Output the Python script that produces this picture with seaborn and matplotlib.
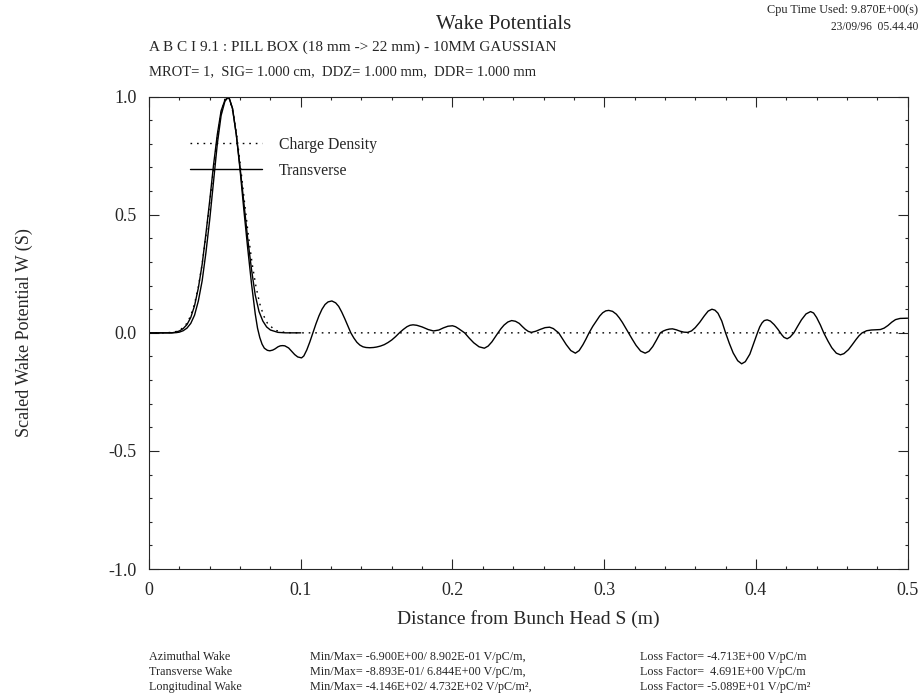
import numpy as np
import pandas as pd
import seaborn as sns
from matplotlib import pyplot as plt

# charge density, m / scaled
charge_s = [0.0, 0.010, 0.015, 0.0175, 0.020, 0.0225, 0.025, 0.0275, 0.030, 0.0325,
            0.035, 0.0375, 0.040, 0.0425, 0.045, 0.0475, 0.050, 0.0515, 0.053, 0.0555,
            0.058, 0.0605, 0.063, 0.0655, 0.068, 0.0705, 0.073, 0.0755, 0.078, 0.083,
            0.090, 0.100, 0.500]
charge_w = [0.0, 0.0, 0.002, 0.005, 0.011, 0.022, 0.041, 0.073, 0.123, 0.195,
            0.291, 0.411, 0.549, 0.693, 0.826, 0.930, 0.990, 1.0, 0.990, 0.930,
            0.826, 0.693, 0.549, 0.411, 0.291, 0.195, 0.123, 0.073, 0.041, 0.011,
            0.001, 0.0, 0.0]

# short solid curve (0 -> 0.1 m)
short_s = [0.0, 0.015, 0.0175, 0.020, 0.0225, 0.025, 0.0275, 0.030, 0.0325, 0.035,
           0.0375, 0.040, 0.0425, 0.045, 0.0475, 0.050, 0.0525, 0.055, 0.0575, 0.060,
           0.0625, 0.065, 0.0675, 0.070, 0.0725, 0.075, 0.0775, 0.080, 0.085, 0.090,
           0.100]
short_w = [0.0, 0.0, 0.003, 0.008, 0.018, 0.035, 0.065, 0.115, 0.19, 0.29,
           0.42, 0.56, 0.71, 0.84, 0.94, 0.985, 1.0, 0.95, 0.84, 0.70,
           0.55, 0.40, 0.27, 0.16, 0.09, 0.05, 0.025, 0.012, 0.002, 0.0,
           0.0]

# transverse wake
wake_s = [0.0, 0.015, 0.018, 0.020, 0.0225, 0.025, 0.0275, 0.030, 0.0325, 0.035,
          0.0375, 0.040, 0.0425, 0.045, 0.0475, 0.050, 0.0525, 0.055, 0.0575, 0.060,
          0.0625, 0.065, 0.0675, 0.070, 0.0715, 0.073, 0.0745, 0.076, 0.078, 0.0796,
          0.0815, 0.083, 0.085, 0.0865, 0.088, 0.0895, 0.092, 0.094, 0.096, 0.098,
          0.1005, 0.102, 0.104, 0.106, 0.108, 0.110, 0.112, 0.114, 0.116, 0.118,
          0.1205, 0.123, 0.125, 0.127, 0.129, 0.131, 0.133, 0.135, 0.137, 0.139,
          0.141, 0.143, 0.1455, 0.148, 0.150, 0.1525, 0.155, 0.1575, 0.160, 0.1625,
          0.165, 0.1675, 0.170, 0.172, 0.174, 0.1765, 0.180, 0.184, 0.1875, 0.191,
          0.194, 0.197, 0.200, 0.202, 0.204, 0.206, 0.208, 0.211, 0.214, 0.2175,
          0.221, 0.2235, 0.226, 0.228, 0.230, 0.232, 0.234, 0.2365, 0.239, 0.2415,
          0.244, 0.246, 0.248, 0.250, 0.252, 0.255, 0.258, 0.261, 0.264, 0.2665,
          0.268, 0.270, 0.2725, 0.275, 0.278, 0.281, 0.2835, 0.286, 0.288, 0.290,
          0.2925, 0.295, 0.297, 0.299, 0.301, 0.303, 0.3055, 0.308, 0.310, 0.312,
          0.314, 0.316, 0.3185, 0.321, 0.324, 0.327, 0.3295, 0.332, 0.3345, 0.337,
          0.339, 0.341, 0.343, 0.345, 0.3475, 0.350, 0.3525, 0.355, 0.3575, 0.360,
          0.363, 0.366, 0.3685, 0.371, 0.373, 0.375, 0.3775, 0.380, 0.3825, 0.385,
          0.388, 0.3906, 0.393, 0.396, 0.3985, 0.401, 0.4025, 0.404, 0.4055, 0.4074,
          0.4095, 0.412, 0.4145, 0.417, 0.4185, 0.4206, 0.4225, 0.425, 0.4275, 0.430,
          0.433, 0.436, 0.438, 0.440, 0.4425, 0.4447, 0.4475, 0.450, 0.453, 0.4557,
          0.458, 0.461, 0.4635, 0.466, 0.468, 0.470, 0.473, 0.476, 0.479, 0.482,
          0.4845, 0.487, 0.4895, 0.492, 0.495, 0.4985, 0.500]
wake_w = [0.0, 0.0, 0.001, 0.003, 0.009, 0.02, 0.04, 0.075, 0.135, 0.22,
          0.34, 0.48, 0.64, 0.80, 0.92, 0.98, 1.0, 0.95, 0.84, 0.69,
          0.52, 0.36, 0.21, 0.08, 0.02, -0.02, -0.048, -0.065, -0.074, -0.076,
          -0.073, -0.068, -0.059, -0.055, -0.054, -0.055, -0.064, -0.078, -0.092, -0.102,
          -0.106, -0.098, -0.072, -0.038, 0.0, 0.038, 0.072, 0.100, 0.120, 0.131,
          0.135, 0.127, 0.112, 0.088, 0.060, 0.030, 0.0, -0.022, -0.040, -0.052,
          -0.059, -0.062, -0.063, -0.062, -0.060, -0.056, -0.050, -0.041, -0.030, -0.016,
          0.0, 0.014, 0.026, 0.032, 0.034, 0.032, 0.025, 0.014, 0.008, 0.012,
          0.021, 0.028, 0.030, 0.026, 0.018, 0.009, 0.0, -0.022, -0.042, -0.059,
          -0.065, -0.056, -0.038, -0.019, 0.0, 0.018, 0.033, 0.046, 0.052, 0.049,
          0.040, 0.027, 0.015, 0.006, 0.002, 0.007, 0.015, 0.022, 0.024, 0.018,
          0.010, 0.0, -0.025, -0.050, -0.075, -0.086, -0.075, -0.050, -0.026, 0.0,
          0.028, 0.052, 0.071, 0.085, 0.093, 0.095, 0.091, 0.079, 0.063, 0.044,
          0.022, 0.0, -0.027, -0.053, -0.077, -0.086, -0.078, -0.058, -0.030, 0.0,
          0.008, 0.013, 0.016, 0.017, 0.013, 0.007, 0.003, 0.002, 0.008, 0.022,
          0.045, 0.072, 0.092, 0.100, 0.096, 0.083, 0.050, 0.0, -0.045, -0.085,
          -0.118, -0.131, -0.122, -0.090, -0.045, 0.0, 0.025, 0.042, 0.052, 0.055,
          0.050, 0.035, 0.015, -0.008, -0.019, -0.025, -0.018, 0.0, 0.028, 0.055,
          0.080, 0.090, 0.084, 0.065, 0.033, 0.0, -0.035, -0.063, -0.086, -0.093,
          -0.088, -0.071, -0.050, -0.028, -0.012, 0.0, 0.009, 0.012, 0.013, 0.014,
          0.020, 0.031, 0.045, 0.056, 0.061, 0.062, 0.062]

x_ticks = [0, 0.1, 0.2, 0.3, 0.4, 0.5]
x_labels = ['0', '0.1', '0.2', '0.3', '0.4', '0.5']
y_ticks = [-1.0, -0.5, 0.0, 0.5, 1.0]
y_labels = ['-1.0', '-0.5', '0.0', '0.5', '1.0']

sns.set_style('ticks')
plt.rcParams['font.family'] = ['Liberation Serif', 'DejaVu Serif']

fig = plt.figure(figsize=(9.24, 7), dpi=100)
ax = fig.add_axes([0.1613, 0.187, 0.821, 0.675])

df_c = pd.DataFrame({'s': charge_s, 'w': charge_w})
df_short = pd.DataFrame({'s': short_s, 'w': short_w})
df_wake = pd.DataFrame({'s': wake_s, 'w': wake_w})

sns.lineplot(data=df_c, x='s', y='w', ax=ax, color='black', lw=1.0,
             linestyle=(0, (1.2, 3.5)), sort=False, estimator=None, label='Charge Density')
sns.lineplot(data=df_wake, x='s', y='w', ax=ax, color='black', lw=1.0,
             sort=False, estimator=None, label='Transverse')
sns.lineplot(data=df_short, x='s', y='w', ax=ax, color='black', lw=1.0,
             sort=False, estimator=None, label='_nolegend_')

ax.set_xlim(0, 0.5)
ax.set_ylim(-1.0, 1.0)
ax.set_xticks(x_ticks)
ax.set_xticklabels(x_labels)
ax.set_yticks(y_ticks)
ax.set_yticklabels(y_labels)
ax.set_xticks(np.arange(0, 0.5001, 0.02), minor=True)
ax.set_yticks(np.arange(-1.0, 1.0001, 0.1), minor=True)
ax.tick_params(which='both', direction='in', top=True, right=True, labelsize=13, pad=9)
ax.tick_params(which='major', length=7, width=0.8)
ax.tick_params(which='minor', length=2.5, width=0.8)
for sp in ax.spines.values():
    sp.set_linewidth(0.8)

ax.set_xlabel('Distance from Bunch Head S (m)', fontsize=14, labelpad=8)
ax.set_ylabel('Scaled Wake Potential W (S)', fontsize=13, labelpad=54)

leg = ax.legend(loc='upper left', bbox_to_anchor=(0.035, 0.945), frameon=False,
                handlelength=4.6, handletextpad=1.1, fontsize=11.3, labelspacing=0.65)

fig.text(0.545, 0.965, 'Wake Potentials', ha='center', va='center', fontsize=15)
fig.text(0.994, 0.985, 'Cpu Time Used: 9.870E+00(s)', ha='right', va='center', fontsize=8.8)
fig.text(0.994, 0.962, '23/09/96  05.44.40', ha='right', va='center', fontsize=8.3)
fig.text(0.1613, 0.932, 'A B C I 9.1 : PILL BOX (18 mm -> 22 mm) - 10MM GAUSSIAN',
         ha='left', va='center', fontsize=11)
fig.text(0.1613, 0.898, 'MROT= 1,  SIG= 1.000 cm,  DDZ= 1.000 mm,  DDR= 1.000 mm',
         ha='left', va='center', fontsize=10.5)

rows = [('Azimuthal Wake', 'Min/Max= -6.900E+00/ 8.902E-01 V/pC/m,', 'Loss Factor= -4.713E+00 V/pC/m'),
        ('Transverse Wake', 'Min/Max= -8.893E-01/ 6.844E+00 V/pC/m,', 'Loss Factor=  4.691E+00 V/pC/m'),
        ('Longitudinal Wake', 'Min/Max= -4.146E+02/ 4.732E+02 V/pC/m\u00b2,', 'Loss Factor= -5.089E+01 V/pC/m\u00b2')]
for i, (a, b, c) in enumerate(rows):
    y = 0.062 - i * 0.0215
    fig.text(0.1613, y, a, ha='left', va='center', fontsize=8.7)
    fig.text(0.3355, y, b, ha='left', va='center', fontsize=8.7)
    fig.text(0.693, y, c, ha='left', va='center', fontsize=8.7)

fig.savefig('out.png', dpi=100)
